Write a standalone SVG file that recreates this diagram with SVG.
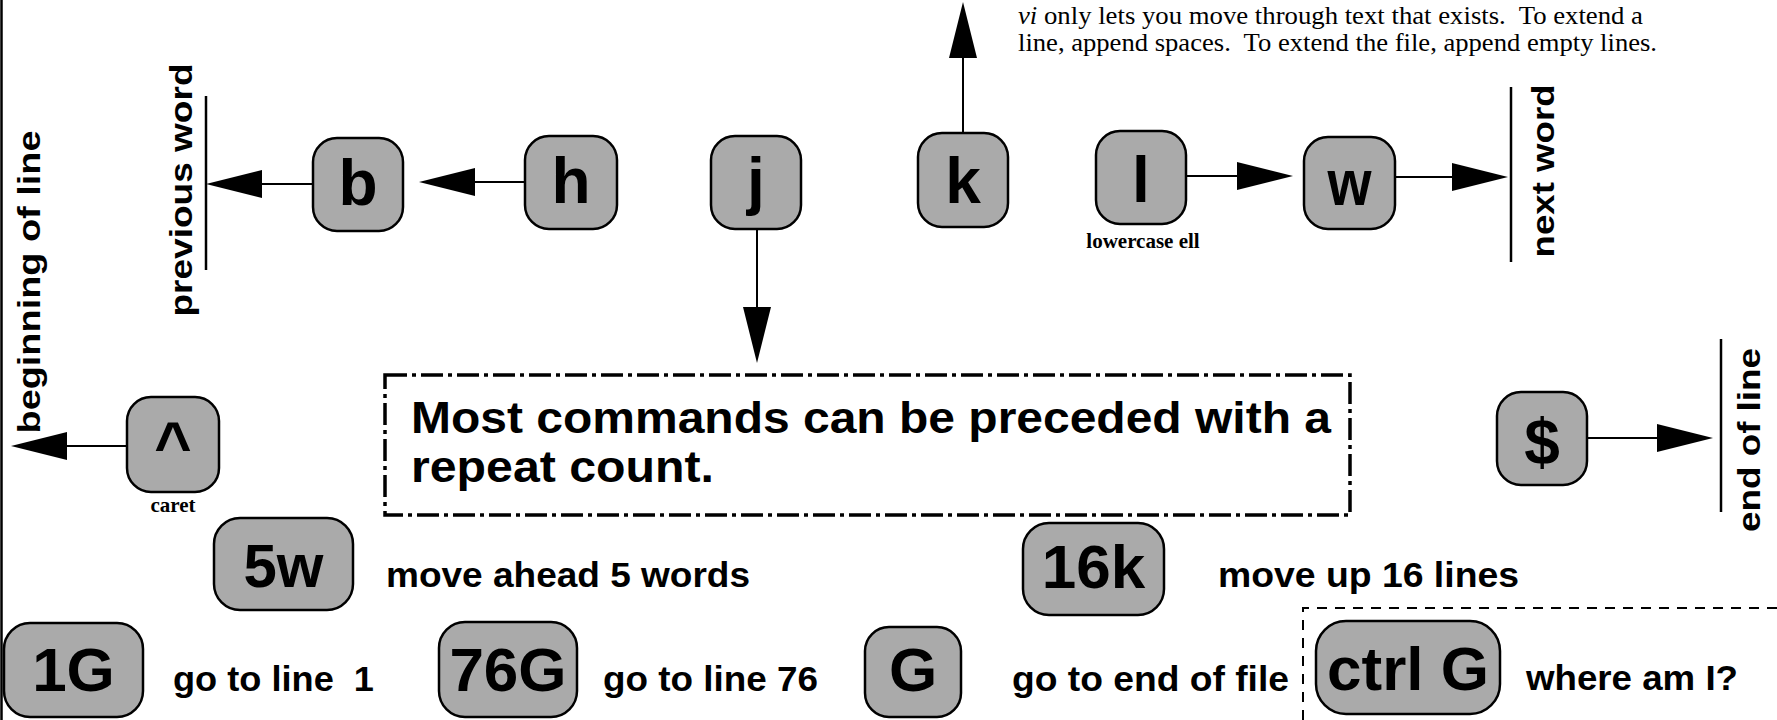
<svg xmlns="http://www.w3.org/2000/svg" width="1777" height="720" viewBox="0 0 1777 720">
<defs>
<marker id="ah" markerUnits="userSpaceOnUse" markerWidth="56" markerHeight="28" viewBox="0 0 56 28" refX="6" refY="14" orient="auto">
<path d="M0,0 L56,14 L0,28 Z" fill="#000"/>
</marker>
<style>
.key{fill:#aaaaaa;stroke:#000;stroke-width:2.5}
.kt{font-family:"Liberation Sans",Arial,sans-serif;font-weight:bold;font-size:64px;text-anchor:middle;fill:#000}
.kt2{font-family:"Liberation Sans",Arial,sans-serif;font-weight:bold;font-size:62px;text-anchor:middle;fill:#000}
.lbl{font-family:"Liberation Sans",Arial,sans-serif;font-weight:bold;font-size:35px;fill:#000}
.rot{font-family:"Liberation Sans",Arial,sans-serif;font-weight:bold;font-size:31px;text-anchor:middle;fill:#000}
.small{font-family:"Liberation Serif","Times New Roman",serif;font-weight:bold;font-size:21px;text-anchor:middle;fill:#000}
.note{font-family:"Liberation Serif","Times New Roman",serif;font-size:25px;fill:#000}
.big{font-family:"Liberation Sans",Arial,sans-serif;font-weight:bold;font-size:43.5px;fill:#000}
.conn{stroke:#000;stroke-width:2;fill:none}
.bar{stroke:#000;stroke-width:2.5;fill:none}
</style>
</defs>
<rect width="1777" height="720" fill="#fff"/>

<g id="frame">
<line class="bar" x1="1.5" y1="0" x2="1.5" y2="720"/>
</g>

<g id="connectors">
<line class="conn" x1="127" y1="446" x2="61" y2="446" marker-end="url(#ah)"/>
<line class="conn" x1="313" y1="184" x2="256" y2="184" marker-end="url(#ah)"/>
<line class="conn" x1="525" y1="182" x2="469" y2="182" marker-end="url(#ah)"/>
<line class="conn" x1="757" y1="229" x2="757" y2="313" marker-end="url(#ah)"/>
<line class="conn" x1="963" y1="133" x2="963" y2="52" marker-end="url(#ah)"/>
<line class="conn" x1="1186" y1="176" x2="1243" y2="176" marker-end="url(#ah)"/>
<line class="conn" x1="1395" y1="177" x2="1458" y2="177" marker-end="url(#ah)"/>
<line class="conn" x1="1587" y1="438" x2="1663" y2="438" marker-end="url(#ah)"/>
</g>

<g id="label-beginning">
<text class="rot" transform="translate(40,282) rotate(-90)" textLength="303" lengthAdjust="spacingAndGlyphs">beginning of line</text>
</g>
<g id="label-previous">
<line class="bar" x1="206" y1="96" x2="206" y2="270"/>
<text class="rot" transform="translate(192,190) rotate(-90)" textLength="253" lengthAdjust="spacingAndGlyphs">previous word</text>
</g>
<g id="label-next">
<line class="bar" x1="1511" y1="87" x2="1511" y2="262"/>
<text class="rot" transform="translate(1554,171) rotate(-90)" textLength="173" lengthAdjust="spacingAndGlyphs">next word</text>
</g>
<g id="label-end">
<line class="bar" x1="1721" y1="339" x2="1721" y2="512"/>
<text class="rot" transform="translate(1760,440) rotate(-90)" textLength="184" lengthAdjust="spacingAndGlyphs" font-size="30">end of line</text>
</g>

<g id="note">
<text class="note" x="1018" y="24" xml:space="preserve" textLength="625" lengthAdjust="spacingAndGlyphs"><tspan font-style="italic">vi</tspan> only lets you move through text that exists.  To extend a</text>
<text class="note" x="1018" y="51" xml:space="preserve" textLength="639" lengthAdjust="spacingAndGlyphs">line, append spaces.  To extend the file, append empty lines.</text>
</g>

<g id="node-caret">
<rect class="key" x="127" y="397" width="92" height="95" rx="24"/>
<text class="kt" x="173" y="467">^</text>
<text class="small" x="173" y="512">caret</text>
</g>
<g id="node-b">
<rect class="key" x="313" y="138" width="90" height="93" rx="24"/>
<text class="kt" x="358" y="205">b</text>
</g>
<g id="node-h">
<rect class="key" x="525" y="136" width="92" height="93" rx="24"/>
<text class="kt" x="571" y="203">h</text>
</g>
<g id="node-j">
<rect class="key" x="711" y="136" width="90" height="93" rx="24"/>
<text class="kt" x="756" y="203">j</text>
</g>
<g id="node-k">
<rect class="key" x="918" y="133" width="90" height="94" rx="24"/>
<text class="kt" x="963" y="203">k</text>
</g>
<g id="node-l">
<rect class="key" x="1096" y="131" width="90" height="93" rx="24"/>
<text class="kt" x="1141" y="202">l</text>
<text class="small" x="1143" y="248">lowercase ell</text>
</g>
<g id="node-w">
<rect class="key" x="1304" y="137" width="91" height="92" rx="24"/>
<text class="kt" x="1349.5" y="205" textLength="44" lengthAdjust="spacingAndGlyphs">w</text>
</g>
<g id="node-dollar">
<rect class="key" x="1497" y="392" width="90" height="93" rx="24"/>
<text class="kt" x="1542" y="464">$</text>
</g>

<g id="repeat-box">
<rect x="385" y="375" width="965" height="140" fill="none" stroke="#000" stroke-width="3.5" stroke-dasharray="22 5 4 5"/>
<text class="big" x="411" y="433" textLength="920" lengthAdjust="spacingAndGlyphs">Most commands can be preceded with a</text>
<text class="big" x="411" y="482" textLength="303" lengthAdjust="spacingAndGlyphs">repeat count.</text>
</g>

<g id="node-5w">
<rect class="key" x="214" y="518" width="139" height="92" rx="26"/>
<text class="kt2" x="283.5" y="587" textLength="80" lengthAdjust="spacingAndGlyphs">5w</text>
<text class="lbl" x="386" y="587" textLength="364" lengthAdjust="spacingAndGlyphs">move ahead 5 words</text>
</g>
<g id="node-16k">
<rect class="key" x="1023" y="523" width="141" height="92" rx="26"/>
<text class="kt2" x="1093.5" y="588">16k</text>
<text class="lbl" x="1218" y="587" textLength="301" lengthAdjust="spacingAndGlyphs">move up 16 lines</text>
</g>
<g id="node-1G">
<rect class="key" x="4" y="623" width="139" height="94" rx="26"/>
<text class="kt2" x="73.5" y="691">1G</text>
<text class="lbl" x="173" y="691" xml:space="preserve" textLength="201" lengthAdjust="spacingAndGlyphs">go to line  1</text>
</g>
<g id="node-76G">
<rect class="key" x="439" y="622" width="138" height="95" rx="26"/>
<text class="kt2" x="508" y="691">76G</text>
<text class="lbl" x="603" y="691" textLength="215" lengthAdjust="spacingAndGlyphs">go to line 76</text>
</g>
<g id="node-G">
<rect class="key" x="865" y="627" width="96" height="90" rx="24"/>
<text class="kt2" x="913" y="691">G</text>
<text class="lbl" x="1012" y="691" textLength="277" lengthAdjust="spacingAndGlyphs">go to end of file</text>
</g>
<g id="ctrlG-box">
<path d="M1303,720 V608 H1777" fill="none" stroke="#000" stroke-width="2" stroke-dasharray="10 8"/>
</g>
<g id="node-ctrlG">
<rect class="key" x="1316" y="621" width="184" height="93" rx="30"/>
<text class="kt2" x="1408" y="690">ctrl G</text>
<text class="lbl" x="1526" y="690" textLength="212" lengthAdjust="spacingAndGlyphs">where am I?</text>
</g>
</svg>
